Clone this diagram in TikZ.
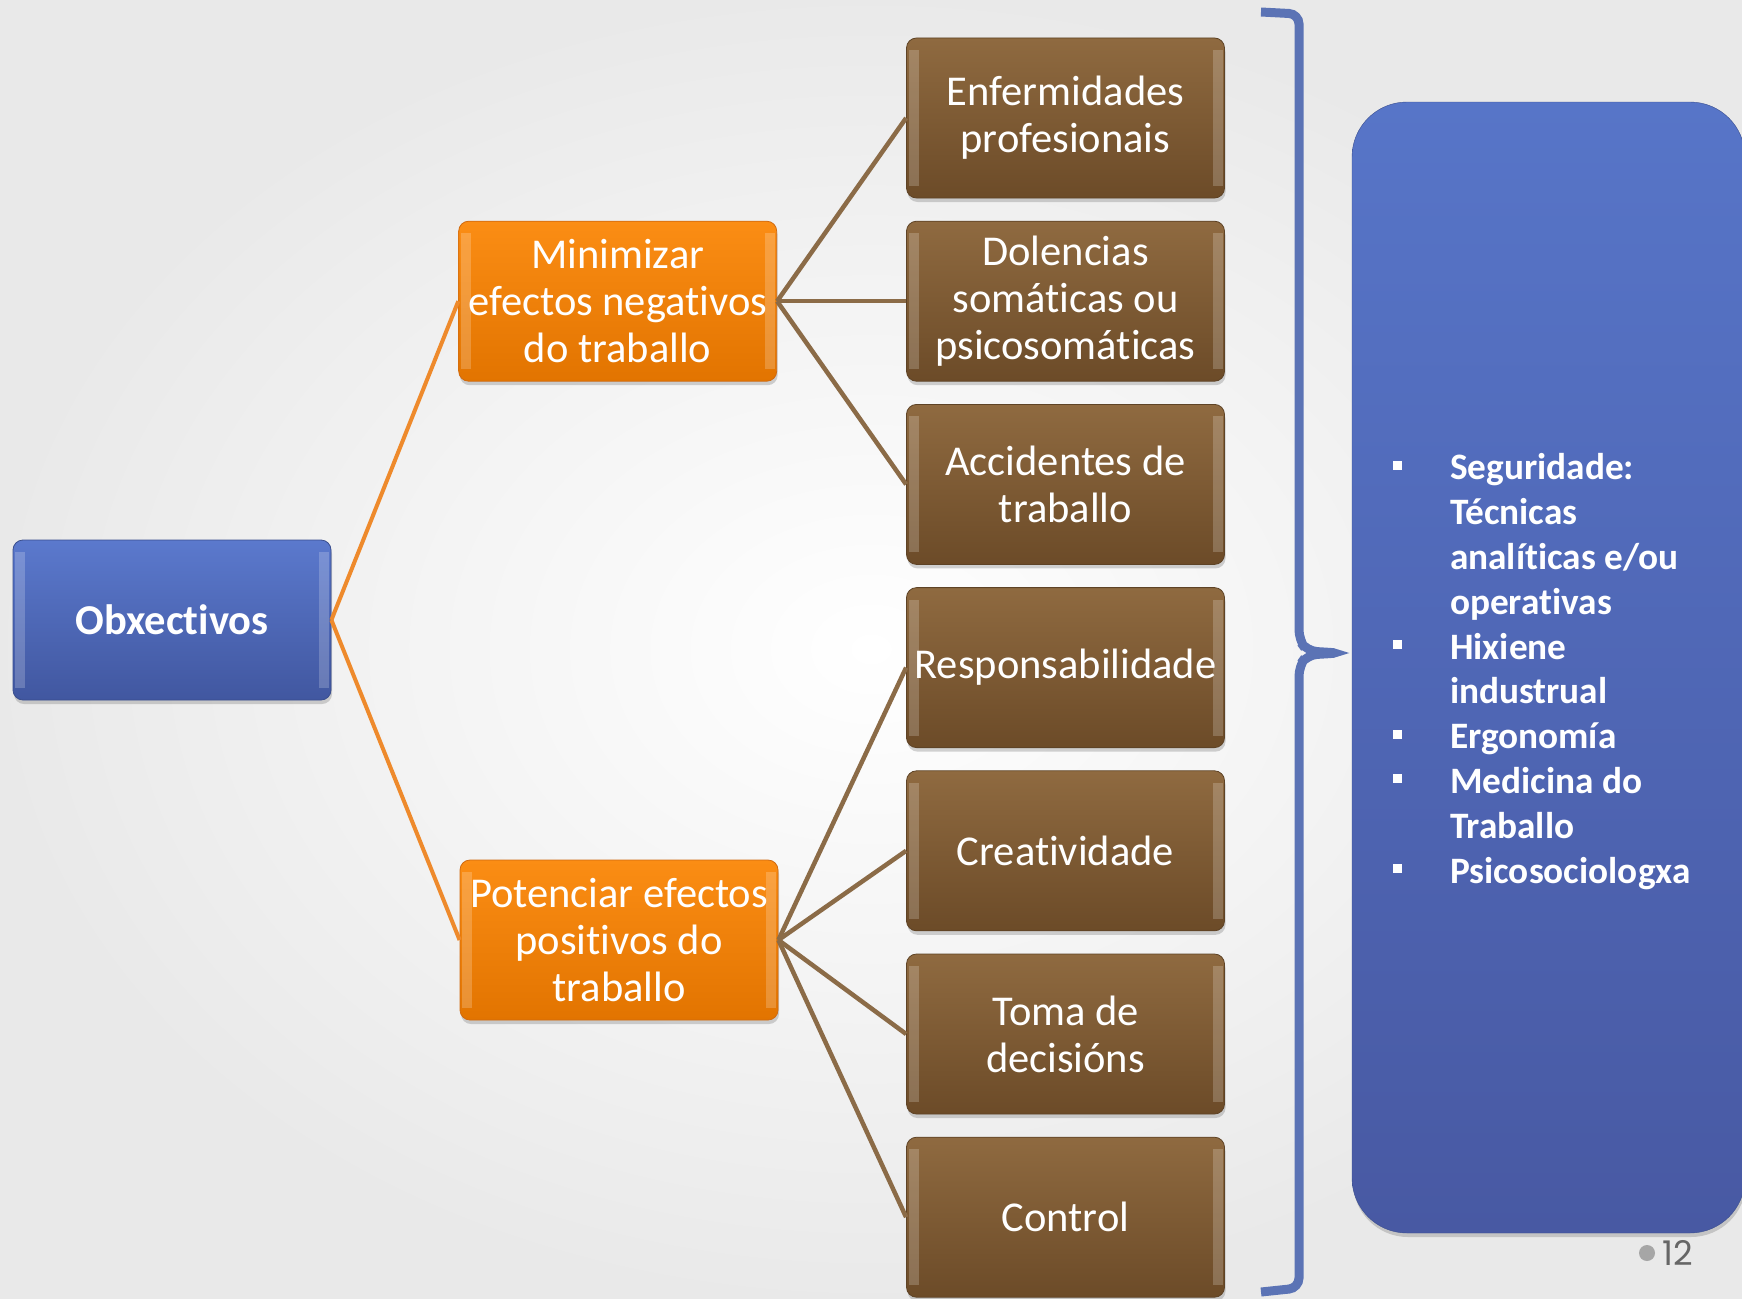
\documentclass[tikz,border=0pt]{standalone}
\usepackage{fontspec}
\setmainfont{Carlito}[Ligatures=NoCommon]
\newfontfamily\pagefont{Poppins}
\usetikzlibrary{positioning,shadows}

\definecolor{bluetop}{HTML}{5B79CD}
\definecolor{bluebot}{HTML}{4157A0}
\definecolor{blueedge}{HTML}{3A4E8E}
\definecolor{paneltop}{HTML}{5775C8}
\definecolor{panelbot}{HTML}{4859A3}
\definecolor{orangetop}{HTML}{FB8D14}
\definecolor{orangebot}{HTML}{E27400}
\definecolor{orangeedge}{HTML}{D06A10}
\definecolor{browntop}{HTML}{8F6A40}
\definecolor{brownbot}{HTML}{6C4B28}
\definecolor{brownedge}{HTML}{5E4326}
\definecolor{orangeln}{HTML}{EE8A2C}
\definecolor{brownln}{HTML}{8B6B47}
\definecolor{bracketblue}{HTML}{5B73B5}

\newcommand{\sqb}{\raisebox{10pt}{\rule{9pt}{9pt}}}

\begin{document}
\begin{tikzpicture}[x=1pt, y=-1pt,
	box/.style   = {rectangle, rounded corners=10pt, minimum width=318pt, minimum height=160pt,
	                inner sep=3pt, align=center, text=white, font=\fontsize{42.5}{47}\selectfont,
	                drop shadow={opacity=0.35, shadow xshift=1pt, shadow yshift=-4pt},
	                path picture={
	                  \fill[white, opacity=0.2, sharp corners] ([xshift=2pt,yshift=-12pt]path picture bounding box.north west)
	                    rectangle ([xshift=12pt,yshift=12pt]path picture bounding box.south west);
	                  \fill[white, opacity=0.2, sharp corners] ([xshift=-2pt,yshift=-12pt]path picture bounding box.north east)
	                    rectangle ([xshift=-12pt,yshift=12pt]path picture bounding box.south east);}},
	root/.style  = {box, top color=bluetop, bottom color=bluebot, draw=blueedge, thick,
	                font=\bfseries\fontsize{42.5}{47}\selectfont},
	mid/.style   = {box, top color=orangetop, bottom color=orangebot, draw=orangeedge, thick},
	leaf/.style  = {box, top color=browntop, bottom color=brownbot, draw=brownedge, thick},
	panel/.style = {rectangle, rounded corners=55pt, minimum width=393pt, minimum height=1131pt,
	                top color=paneltop, bottom color=panelbot, draw=blueedge,
	                drop shadow={opacity=0.35, shadow xshift=1pt, shadow yshift=-4pt}},
	listtext/.style = {text=white, inner sep=0pt, font=\bfseries\fontsize{37.3}{44.8}\selectfont},
	orangeline/.style = {draw=orangeln, line width=4pt},
	brownline/.style  = {draw=brownln, line width=4.5pt},
	node distance=22.4pt and 129pt]

	\useasboundingbox (0,0) rectangle (1742,1298);
	\shade[inner color=white, outer color=gray!17] (0,0) rectangle (1742,1298);

	% right hand column, one box under the other
	\node[leaf] (enf) at (1065.5,118) {Enfermidades\\profesionais};
	\node[leaf, below=of enf] (dol) {Dolencias\\somáticas ou\\psicosomáticas};
	\node[leaf, below=of dol] (acc) {Accidentes de\\traballo};
	\node[leaf, below=of acc] (res) {Responsabilidade};
	\node[leaf, below=of res] (cre) {Creatividade};
	\node[leaf, below=of cre] (tom) {Toma de\\decisións};
	\node[leaf, below=of tom] (con) {Control};

	% middle and left boxes
	\node[mid, left=of dol] (min) {Minimizar\\efectos negativos\\do traballo};
	\node[mid] (pot) at (619,940) {Potenciar efectos\\positivos do\\traballo};
	\node[root] (obx) at (172,620) {Obxectivos};

	% lines between the levels
	\foreach \n in {min,pot}
	\draw[orangeline] (obx.east) -- (\n.west);

	\foreach \n in {enf,dol,acc}
	\draw[brownline] (min.east) -- (\n.west);

	\foreach \n in {res,cre,tom,con}
	\draw[brownline] (pot.east) -- (\n.west);

	% bracket and the panel on the right
	\draw[draw=bracketblue, line width=9pt, rounded corners=10pt]
	(1261,12) -- (1299,14) -- (1299,640) -- (1307,651) -- (1340,653)
	-- (1307,655) -- (1299,666) -- (1299,1288) -- (1261,1292);

	\node[panel] (panel) at (1548.5,667.5) {};
	\node[listtext, anchor=west] (lst) at ([xshift=41pt,yshift=-5pt]panel.west) {%
		\begin{tabular}{@{}l@{\hspace{48pt}}l@{}}
			\sqb & Seguridade:\\
			     & Técnicas\\
			     & analíticas e/ou\\
			     & operativas\\
			\sqb & Hixiene\\
			     & industrual\\
			\sqb & Ergonomía\\
			\sqb & Medicina do\\
			     & Traballo\\
			\sqb & Psicosociologxa
		\end{tabular}};

	% page number
	\node[circle, fill=gray!70, minimum size=16pt, inner sep=0pt] (dot) at (1647,1253) {};
	\node[right=7pt of dot, inner sep=0pt, text=gray!80!black, font=\pagefont\fontsize{34}{36}\selectfont] (pg) {12};
\end{tikzpicture}
\end{document}
